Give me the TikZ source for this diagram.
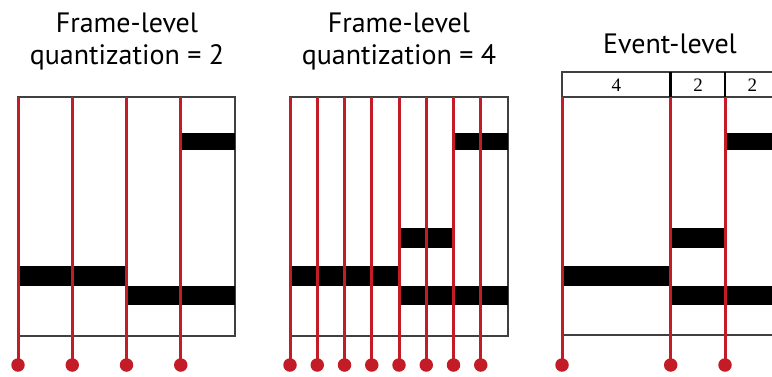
\documentclass[tikz,border=0pt]{standalone}
\usepackage{fontspec}
\setmainfont{PT Sans}
\newfontfamily\digitfont{Liberation Serif}
\definecolor{onsetred}{RGB}{196,28,38}

\begin{document}
\begin{tikzpicture}[x=1pt,y=-1pt]
  \tikzset{
    title/.style={anchor=base,align=center,font=\fontsize{28}{32}\selectfont},
    frame/.style={draw=black!75,line width=1.2pt},
    divider/.style={draw=black,line width=2.6pt},
    note/.style={fill=black},
    onset/.style={draw=onsetred,line width=3pt},
    onsetdot/.style={circle,fill=onsetred,inner sep=0pt,minimum size=13.5pt},
    dur/.style={font=\digitfont\fontsize{19}{19}\selectfont}
  }
  \useasboundingbox (0,0) rectangle (772,376);
  \clip (0,0) rectangle (772,376);

  % titles
  \node[title] (tA) at (127,64) {Frame-level\\quantization = 2};
  \node[title] (tB) at (399,64) {Frame-level\\quantization = 4};
  \node[title] (tC) at (670,53) {Event-level};

  % frame-level, q = 2
  \draw[frame] (18,97) rectangle (235,336);
  \fill[note] (18,266) rectangle (126.5,286);
  \fill[note] (126.5,286) rectangle (235,305);
  \fill[note] (181,133) rectangle (235,150);
  \foreach \i in {0,...,3}{
    \node[onsetdot] (a\i) at (18+54.25*\i,365) {};
    \coordinate (a\i top) at (18+54.25*\i,97);
    \draw[onset] (a\i top) -- (a\i.center);
  }

  % frame-level, q = 4
  \draw[frame] (290,97) rectangle (508,336);
  \fill[note] (290,266) rectangle (399.3,286);
  \fill[note] (399.3,286) rectangle (508,305);
  \fill[note] (399.3,228) rectangle (453.7,247.5);
  \fill[note] (453.7,133) rectangle (508,150);
  \foreach \i in {0,...,7}{
    \node[onsetdot] (b\i) at (290+27.25*\i,365) {};
    \coordinate (b\i top) at (290+27.25*\i,97);
    \draw[onset] (b\i top) -- (b\i.center);
  }

  % event-level
  \draw[frame] (562,72) rectangle (780,97);
  \draw[frame] (562,97) rectangle (780,335);
  \draw[divider] (670.7,72) -- (670.7,97);
  \draw[divider] (725,72) -- (725,97);
  \node[dur] (d1) at (616.3,85) {4};
  \node[dur] (d2) at (698,85) {2};
  \node[dur] (d3) at (752.3,85) {2};
  \fill[note] (562,266) rectangle (670.7,286);
  \fill[note] (670.7,286) rectangle (780,305);
  \fill[note] (670.7,228) rectangle (725,247.5);
  \fill[note] (725,133) rectangle (780,150);
  \foreach \x [count=\i] in {562,670.7,725}{
    \node[onsetdot] (c\i) at (\x,365) {};
    \coordinate (c\i top) at (\x,97);
    \draw[onset] (c\i top) -- (c\i.center);
  }
\end{tikzpicture}
\end{document}
